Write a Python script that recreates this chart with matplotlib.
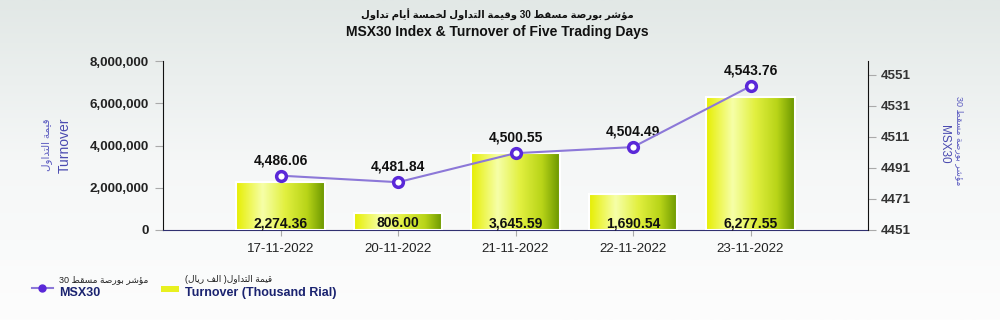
import numpy as np
import matplotlib
matplotlib.use('Agg')
import matplotlib.pyplot as plt
from matplotlib.colors import LinearSegmentedColormap
from matplotlib.lines import Line2D
from matplotlib.patches import Rectangle

plt.rcParams['font.family'] = ['Liberation Sans', 'DejaVu Sans']

# data
dates = ['17-11-2022', '20-11-2022', '21-11-2022', '22-11-2022', '23-11-2022']
turnover = [2274.36, 806.00, 3645.59, 1690.54, 6277.55]   # thousand rial
msx30 = [4486.06, 4481.84, 4500.55, 4504.49, 4543.76]
left_ticks = [0, 2000000, 4000000, 6000000, 8000000]
right_ticks = [4451, 4471, 4491, 4511, 4531, 4551]

title_ar = 'مؤشر بورصة مسقط 30 وقيمة التداول لخمسة أيام تداول'
title_en = 'MSX30 Index & Turnover of Five Trading Days'
turn_ar = 'قيمة التداول'
msx_ar = 'مؤشر بورصة مسقط 30'
leg_turn_ar = 'قيمة التداول( الف ريال)'


# small arabic shaper: presentation forms + visual order (matplotlib has no bidi)
FORMS = {
    'ا': (0xFE8D, 0xFE8E, None, None), 'أ': (0xFE83, 0xFE84, None, None),
    'ؤ': (0xFE85, 0xFE86, None, None), 'ب': (0xFE8F, 0xFE90, 0xFE91, 0xFE92),
    'ة': (0xFE93, 0xFE94, None, None), 'ت': (0xFE95, 0xFE96, 0xFE97, 0xFE98),
    'خ': (0xFEA5, 0xFEA6, 0xFEA7, 0xFEA8), 'د': (0xFEA9, 0xFEAA, None, None),
    'ر': (0xFEAD, 0xFEAE, None, None), 'س': (0xFEB1, 0xFEB2, 0xFEB3, 0xFEB4),
    'ش': (0xFEB5, 0xFEB6, 0xFEB7, 0xFEB8), 'ص': (0xFEB9, 0xFEBA, 0xFEBB, 0xFEBC),
    'ط': (0xFEC1, 0xFEC2, 0xFEC3, 0xFEC4), 'ف': (0xFED1, 0xFED2, 0xFED3, 0xFED4),
    'ق': (0xFED5, 0xFED6, 0xFED7, 0xFED8), 'ل': (0xFEDD, 0xFEDE, 0xFEDF, 0xFEE0),
    'م': (0xFEE1, 0xFEE2, 0xFEE3, 0xFEE4), 'و': (0xFEED, 0xFEEE, None, None),
    'ي': (0xFEF1, 0xFEF2, 0xFEF3, 0xFEF4),
}


def shape(s):
    out = []
    for i, c in enumerate(s):
        if c not in FORMS:
            out.append(c)
            continue
        iso, fin, ini, med = FORMS[c]
        prev = s[i - 1] if i > 0 else ''
        nxt = s[i + 1] if i + 1 < len(s) else ''
        join_prev = prev in FORMS and FORMS[prev][2] is not None
        join_next = nxt in FORMS and ini is not None
        if join_prev and join_next:
            out.append(chr(med))
        elif join_prev:
            out.append(chr(fin))
        elif join_next:
            out.append(chr(ini))
        else:
            out.append(chr(iso))
    vis = ''.join(out)[::-1]
    # put digit runs back in LTR order, mirror brackets
    res, run = '', ''
    for c in vis:
        if c.isdigit():
            run += c
        else:
            res += run[::-1]
            run = ''
            res += {'(': ')', ')': '('}.get(c, c)
    return res + run[::-1]


fig = plt.figure(figsize=(10, 3.2), dpi=100)

# background gradient, grey on top fading to white
bg = fig.add_axes([0, 0, 1, 1], zorder=-10)
grad = np.linspace(0, 1, 256).reshape(-1, 1)
bg.imshow(grad, aspect='auto', extent=[0, 1, 0, 1], origin='lower',
          cmap=LinearSegmentedColormap.from_list('bg', ['#fdfdfd', '#f5f7f7', '#e2e8e6']))
bg.axis('off')

ax = fig.add_axes([0.163, 0.28125, 0.705, 0.528])
ax.patch.set_alpha(0)
x = np.arange(len(dates))
vals = [v * 1000 for v in turnover]
bars = ax.bar(x, vals, width=0.75, facecolor='none', edgecolor='white', linewidth=1.5, zorder=3)

bar_cmap = LinearSegmentedColormap.from_list(
    'bar', [(0, '#e6ee00'), (0.3, '#f6ffa8'), (0.55, '#e2f040'), (0.8, '#b8d418'), (1, '#6a9600')])
hgrad = np.linspace(0, 1, 256).reshape(1, -1)
for b in bars:
    im = ax.imshow(hgrad, aspect='auto', cmap=bar_cmap, zorder=2,
                   extent=[b.get_x(), b.get_x() + b.get_width(), 0, b.get_height()])
    im.set_clip_path(b)

for xi, t in zip(x, turnover):
    ax.annotate(f'{t:,.2f}', (xi, 0), xytext=(0, 0), textcoords='offset points',
                ha='center', va='bottom', fontsize=10, fontweight='bold', color='#111111', zorder=5)

ax.set_xlim(-1, 5)
ax.set_ylim(0, 8000000)
ax.set_xticks(x)
ax.set_xticklabels(dates, fontsize=9.6, color='#222222')
ax.set_yticks(left_ticks)
ax.set_yticklabels([f'{v:,}' for v in left_ticks], fontsize=9.6, fontweight='bold', color='#222222')
ax.tick_params(axis='y', length=6, color='#aaaaaa', pad=4)
ax.tick_params(axis='x', length=4, color='#aaaaaa', pad=5)
for s in ['top', 'right']:
    ax.spines[s].set_visible(False)
ax.spines['left'].set_color('#111111')
ax.spines['bottom'].set_color('#303070')

ax2 = ax.twinx()
ax2.set_ylim(4451, 4560)
ax2.set_yticks(right_ticks)
ax2.set_yticklabels([str(v) for v in right_ticks], fontsize=9.6, fontweight='bold', color='#333333')
ax2.tick_params(axis='y', length=6, color='#aaaaaa', pad=3)
for s in ['top', 'left', 'bottom']:
    ax2.spines[s].set_visible(False)
ax2.spines['right'].set_color('#111111')
ax2.plot(x, msx30, color='#8c78d8', lw=1.5, marker='o', ms=7, mfc='white',
         mec='#5a28d8', mew=2.5, zorder=4)
for xi, m in zip(x, msx30):
    ax2.annotate(f'{m:,.2f}', (xi, m), xytext=(0, 6), textcoords='offset points',
                 ha='center', va='bottom', fontsize=10, fontweight='bold', color='#111111')

# titles
fig.text(0.497, 0.953, shape(title_ar), ha='center', va='center', fontsize=7.2,
         fontweight='bold', color='#111111')
fig.text(0.497, 0.9, title_en, ha='center', va='center', fontsize=10, fontweight='bold', color='#111111')

# axis labels
fig.text(0.065, 0.547, 'Turnover', rotation=90, ha='center', va='center',
         fontsize=10, color='#4a4ab0')
fig.text(0.047, 0.547, shape(turn_ar), rotation=90, ha='center', va='center',
         fontsize=7.5, color='#5a5ac0')
fig.text(0.944, 0.55, 'MSX30', rotation=270, ha='center', va='center',
         fontsize=8.5, color='#4a4ab0')
fig.text(0.959, 0.56, shape(msx_ar), rotation=270, ha='center', va='center',
         fontsize=6.5, color='#5a5ac0')

# legend
fig.add_artist(Line2D([0.032, 0.053], [0.1, 0.1], color='#8c78d8', lw=1.5,
                      transform=fig.transFigure))
fig.add_artist(Line2D([0.042], [0.1], color='#5a28d8', marker='o', ms=5,
                      transform=fig.transFigure))
fig.text(0.059, 0.125, shape(msx_ar), ha='left', va='center', fontsize=6.5, color='#222222')
fig.text(0.059, 0.085, 'MSX30', ha='left', va='center', fontsize=9, fontweight='bold', color='#1a2370')
fig.add_artist(Rectangle((0.161, 0.088), 0.018, 0.019, facecolor='#e8f020',
                         edgecolor='none', transform=fig.transFigure))
fig.text(0.185, 0.125, shape(leg_turn_ar), ha='left', va='center', fontsize=6.5, color='#222222')
fig.text(0.185, 0.085, 'Turnover (Thousand Rial)', ha='left', va='center', fontsize=9,
         fontweight='bold', color='#1a2370')

fig.savefig('out.png', dpi=100)
